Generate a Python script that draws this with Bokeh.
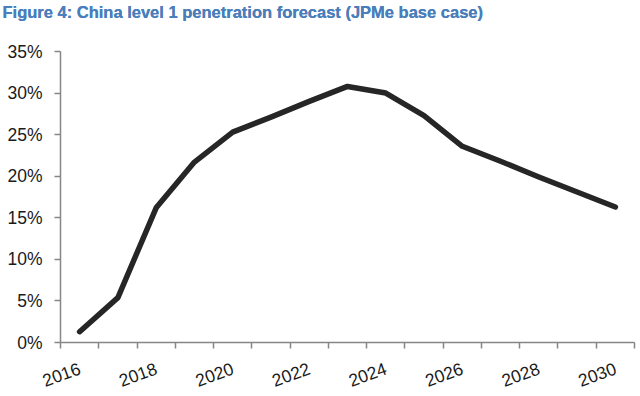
import math
from bokeh.plotting import figure
from bokeh.models import Range1d, FixedTicker, Title
from bokeh.embed import file_html
from bokeh.resources import INLINE

# Data
years = list(range(2016, 2031))
penetration = [1.3, 5.4, 16.2, 21.7, 25.3, 27.1, 29.0, 30.8, 30.0, 27.3, 23.6, 21.8, 19.9, 18.1, 16.3]
y_ticks = [0, 5, 10, 15, 20, 25, 30, 35]
x_label_years = [2016, 2018, 2020, 2022, 2024, 2026, 2028, 2030]
title_text = "Figure 4: China level 1 penetration forecast (JPMe base case)"

AXIS_COLOR = "#868686"
FONT = "Liberation Sans"

p = figure(width=640, height=396, output_backend="svg", toolbar_location=None,
           x_range=Range1d(years[0] - 0.5, years[-1] + 0.5),
           y_range=Range1d(y_ticks[0], y_ticks[-1]))
p.min_border = 0
p.min_border_left = 60
p.min_border_right = 6
p.min_border_top = 51
p.min_border_bottom = 53

main_title = Title(text=title_text, text_font=FONT, text_font_style="bold",
                   text_font_size="16.5px", text_color="#4A7EBB",
                   align="left", offset=-58, standoff=0)
spacer = Title(text=" ", text_font_size="1px", standoff=8)
p.title = main_title
p.above = [spacer, main_title]

p.outline_line_color = None
p.xgrid.grid_line_color = None
p.ygrid.grid_line_color = None
p.background_fill_color = "white"
p.border_fill_color = "white"

p.line(years, penetration, line_width=5.5, line_color="#262626",
       line_cap="round", line_join="round")

# y axis
p.yaxis.ticker = FixedTicker(ticks=y_ticks)
p.yaxis.major_label_overrides = {t: f"{t}%" for t in y_ticks}
p.yaxis.minor_tick_line_color = None
p.yaxis.major_tick_in = 0
p.yaxis.major_tick_out = 6
p.yaxis.major_label_standoff = 12
p.yaxis.axis_line_color = AXIS_COLOR
p.yaxis.major_tick_line_color = AXIS_COLOR
p.yaxis.axis_line_width = 1.5
p.yaxis.major_tick_line_width = 1.5
p.yaxis.major_label_text_font = FONT
p.yaxis.major_label_text_font_size = "17.5px"
p.yaxis.major_label_text_color = "#1a1a1a"

# x axis: labels on even years, tick marks at category boundaries
p.xaxis.ticker = FixedTicker(ticks=x_label_years,
                             minor_ticks=[y - 0.5 for y in years] + [years[-1] + 0.5])
p.xaxis.major_label_overrides = {y: str(y) for y in x_label_years}
p.xaxis.major_tick_line_color = None
p.xaxis.minor_tick_in = 0
p.xaxis.minor_tick_out = 6
p.xaxis.minor_tick_line_color = AXIS_COLOR
p.xaxis.minor_tick_line_width = 1.5
p.xaxis.axis_line_color = AXIS_COLOR
p.xaxis.axis_line_width = 1.5
p.xaxis.major_label_orientation = math.radians(20)
p.xaxis.major_label_standoff = 19
p.xaxis.major_label_text_font = FONT
p.xaxis.major_label_text_font_size = "17.5px"
p.xaxis.major_label_text_color = "#1a1a1a"

open("out.html", "w").write(file_html(p, INLINE))
